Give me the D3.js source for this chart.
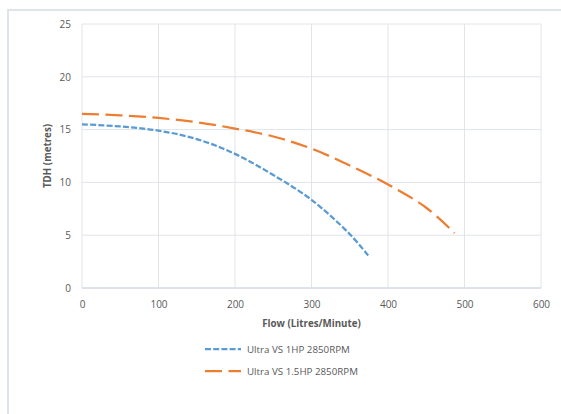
<!DOCTYPE html>
<html>
<head>
<meta charset="utf-8">
<script src="https://cdn.jsdelivr.net/npm/d3@7"></script>
<style>
  body { margin: 0; background: #fff; }
  svg text { font-family: "Open Sans", "Liberation Sans", sans-serif; fill: #595959; }
</style>
</head>
<body>
<div id="chart"></div>
<script>
// flow (L/min) and head (m)
const flow1 = [0, 50, 100, 150, 200, 250, 300, 350, 375];
const head1 = [15.5, 15.3, 14.9, 14.1, 12.7, 10.7, 8.35, 5.1, 3.0];
const flow2 = [0, 50, 100, 150, 200, 250, 300, 350, 400, 450, 487];
const head2 = [16.5, 16.35, 16.1, 15.7, 15.1, 14.35, 13.2, 11.6, 9.8, 7.6, 5.2];
const seriesNames = ["Ultra VS 1HP 2850RPM", "Ultra VS 1.5HP 2850RPM"];
const xTicks = [0, 100, 200, 300, 400, 500, 600];
const yTicks = [0, 5, 10, 15, 20, 25];

const width = 561, height = 414;
const margin = { left: 82, right: 20, top: 24, bottom: 126 }; // plot area 82..541, 24..288

const svg = d3.select("#chart").append("svg")
  .attr("width", width).attr("height", height);

// chart frame
svg.append("rect")
  .attr("x", 8).attr("y", 10).attr("width", 580).attr("height", 430)
  .attr("fill", "none").attr("stroke", "#dfe3ea").attr("stroke-width", 2);

const x = d3.scaleLinear().domain([0, 600]).range([margin.left, width - margin.right]);
const y = d3.scaleLinear().domain([0, 25]).range([height - margin.bottom, margin.top]);

// gridlines
svg.append("g").selectAll("line").data(xTicks).join("line")
  .attr("x1", d => x(d)).attr("x2", d => x(d))
  .attr("y1", y(0)).attr("y2", y(25))
  .attr("stroke", "#e1e4ea").attr("stroke-width", 1);
svg.append("g").selectAll("line").data(yTicks).join("line")
  .attr("x1", x(0)).attr("x2", x(600))
  .attr("y1", d => y(d)).attr("y2", d => y(d))
  .attr("stroke", "#e1e4ea").attr("stroke-width", 1);

// axes (labels only)
const xAxis = svg.append("g").attr("transform", `translate(0,${y(0)})`)
  .call(d3.axisBottom(x).tickValues(xTicks).tickSize(0).tickPadding(13));
const yAxis = svg.append("g").attr("transform", `translate(${x(0)},0)`)
  .call(d3.axisLeft(y).tickValues(yTicks).tickSize(0).tickPadding(11));
[xAxis, yAxis].forEach(a => {
  a.select(".domain").remove();
  a.selectAll("text").attr("font-size", 10).attr("fill", "#595959")
    .attr("font-family", "Open Sans, sans-serif");
});
svg.append("line")
  .attr("x1", x(0)).attr("x2", x(600)).attr("y1", y(0)).attr("y2", y(0))
  .attr("stroke", "#d9dde4").attr("stroke-width", 1.5);

// axis titles
svg.append("text")
  .attr("x", (x(0) + x(600)) / 2).attr("y", 327)
  .attr("text-anchor", "middle").attr("font-size", 9.75).attr("font-weight", "bold")
  .text("Flow (Litres/Minute)");
svg.append("text")
  .attr("transform", `translate(51,${(y(0) + y(25)) / 2}) rotate(-90)`)
  .attr("text-anchor", "middle").attr("font-size", 9.75).attr("font-weight", "bold")
  .text("TDH (metres)");

const line = d3.line().x(d => x(d[0])).y(d => y(d[1])).curve(d3.curveCatmullRom);
const series = [
  { pts: d3.zip(flow1, head1), color: "#5b9bd5", dash: "6,2.2" },
  { pts: d3.zip(flow2, head2), color: "#ed7d31", dash: "17,6.5" }
];
series.forEach(s => {
  svg.append("path").datum(s.pts)
    .attr("d", line)
    .attr("fill", "none").attr("stroke", s.color)
    .attr("stroke-width", 2.25).attr("stroke-dasharray", s.dash);
});

// legend
const legend = svg.append("g");
series.forEach((s, i) => {
  const ly = 349 + i * 22;
  legend.append("line")
    .attr("x1", 205).attr("x2", 241).attr("y1", ly).attr("y2", ly)
    .attr("stroke", s.color).attr("stroke-width", 2.25).attr("stroke-dasharray", s.dash);
  legend.append("text")
    .attr("x", 247).attr("y", ly + 3.5).attr("font-size", 9.75)
    .text(seriesNames[i]);
});
</script>
</body>
</html>
